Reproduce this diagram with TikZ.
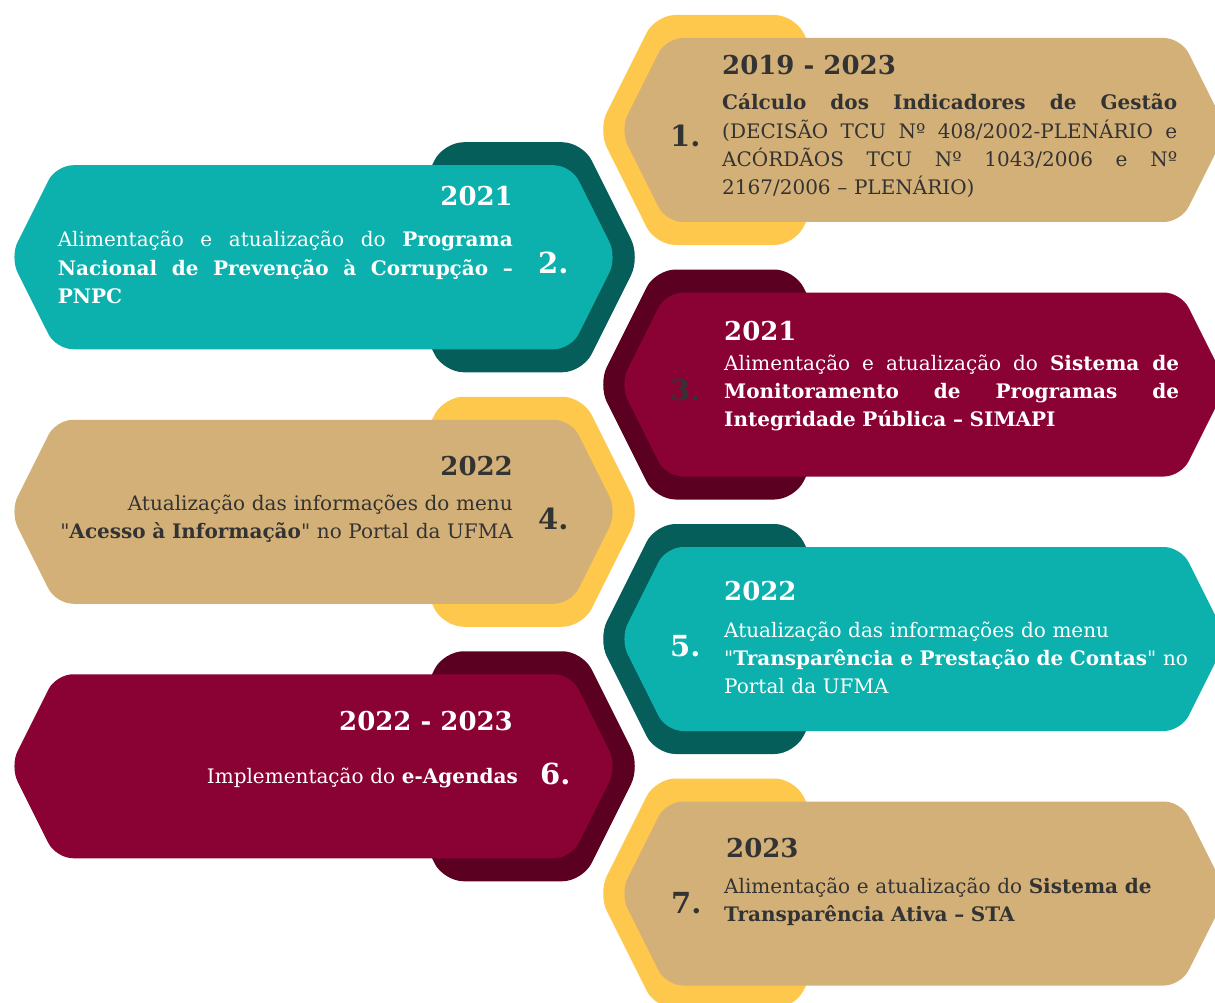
\documentclass[tikz,border=0pt]{standalone}
\usepackage{fontspec}
\setmainfont{DejaVu Serif}
\usepackage{tikz}
\usetikzlibrary{positioning}

\definecolor{tan}{HTML}{D3B077}
\definecolor{sun}{HTML}{FEC84D}
\definecolor{teal1}{HTML}{0CB0AC}
\definecolor{tealdark}{HTML}{065E5A}
\definecolor{wine}{HTML}{8A0233}
\definecolor{winedark}{HTML}{5C0021}
\definecolor{ink}{HTML}{333333}

% one justified line of a text block
\newcommand{\fillline}[1]{\makebox[455pt][s]{\spaceskip=0pt\relax #1}}

\begin{document}
\begin{tikzpicture}[
    x=1pt, y=-1pt,
    shadowhex/.style={rounded corners=20pt},
    mainhex/.style={rounded corners=17pt},
    year/.style={inner sep=0pt, font=\fontsize{26}{30}\selectfont\bfseries},
    body/.style={inner sep=0pt, text width=455pt, align=left, font=\fontsize{20}{28.3}\selectfont},
    num/.style={inner sep=0pt, anchor=base west, font=\fontsize{29}{32}\selectfont\bfseries}
]
\useasboundingbox (0,0) rectangle (1215,1003);
\fill[white] (0,0) rectangle (1215,1003);
\clip (0,0) rectangle (1215,1003);

% hexagon pairs: back shape, then front shape
\foreach \n/\mx/\sx/\face/\shade in {1/923.5/725/tan/sun, 2/313.5/513/teal1/tealdark,
    3/923.5/725/wine/winedark, 4/313.5/513/tan/sun, 5/923.5/725/teal1/tealdark,
    6/313.5/513/wine/winedark, 7/923.5/725/tan/sun}{
  \pgfmathsetmacro\cy{130+127.25*(\n-1)}
  \fill[\shade, shadowhex] (\sx-127,\cy) -- ++(57.5,-115) -- ++(139,0) -- ++(57.5,115)
    -- ++(-57.5,115) -- ++(-139,0) -- cycle;
  \fill[\face, mainhex] (\mx-303.5,\cy) -- ++(46,-92) -- ++(515,0) -- ++(46,92)
    -- ++(-46,92) -- ++(-515,0) -- cycle;
}

% 1
\node[year, ink, anchor=base west] (year1) at (722,75) {2019 - 2023};
\node[body, ink, anchor=base west] (text1) at (722,110)
  {\fillline{\textbf{Cálculo dos Indicadores de Gestão}}\\
   \fillline{(DECISÃO TCU Nº 408/2002-PLENÁRIO e}\\
   \fillline{ACÓRDÃOS TCU Nº 1043/2006 e Nº}\\
   2167/2006 – PLENÁRIO)};
\node[num, ink] (num1) at (670,147) {1.};

% 2
\node[year, white, anchor=base east] (year2) at (513,205) {2021};
\node[body, white, anchor=base east] (text2) at (513,247)
  {\fillline{Alimentação e atualização do \textbf{Programa}}\\
   \fillline{\textbf{Nacional de Prevenção à Corrupção –}}\\
   \textbf{PNPC}};
\node[num, white] (num2) at (538,273) {2.};

% 3
\node[year, white, anchor=base west] (year3) at (724,340) {2021};
\node[body, white, anchor=base west] (text3) at (724,370)
  {\fillline{Alimentação e atualização do \textbf{Sistema de}}\\
   \fillline{\textbf{Monitoramento de Programas de}}\\
   \textbf{Integridade Pública – SIMAPI}};
\node[num, ink] (num3) at (670,400) {3.};

% 4
\node[year, ink, anchor=base east] (year4) at (513,475) {2022};
\node[body, ink, align=right, anchor=base east] (text4) at (513,510)
  {Atualização das informações do menu\\
   \textquotedbl\textbf{Acesso à Informação}\textquotedbl{} no Portal da UFMA};
\node[num, ink] (num4) at (538,529) {4.};

% 5
\node[year, white, anchor=base west] (year5) at (724,600) {2022};
\node[body, white, anchor=base west] (text5) at (724,637)
  {Atualização das informações do menu\\
   \mbox{\textquotedbl\textbf{Transparência e Prestação de Contas}\textquotedbl{} no}\\
   Portal da UFMA};
\node[num, white] (num5) at (670,656) {5.};

% 6
\node[year, white, anchor=base east] (year6) at (513,730) {2022 - 2023};
\node[body, white, align=right, anchor=base east] (text6) at (518,783)
  {Implementação do \textbf{e-Agendas}};
\node[num, white] (num6) at (540,784) {6.};

% 7
\node[year, ink, anchor=base west] (year7) at (726,857) {2023};
\node[body, ink, anchor=base west] (text7) at (724,893)
  {Alimentação e atualização do \textbf{Sistema de}\\
   \textbf{Transparência Ativa – STA}};
\node[num, ink] (num7) at (671,913) {7.};
\end{tikzpicture}
\end{document}
